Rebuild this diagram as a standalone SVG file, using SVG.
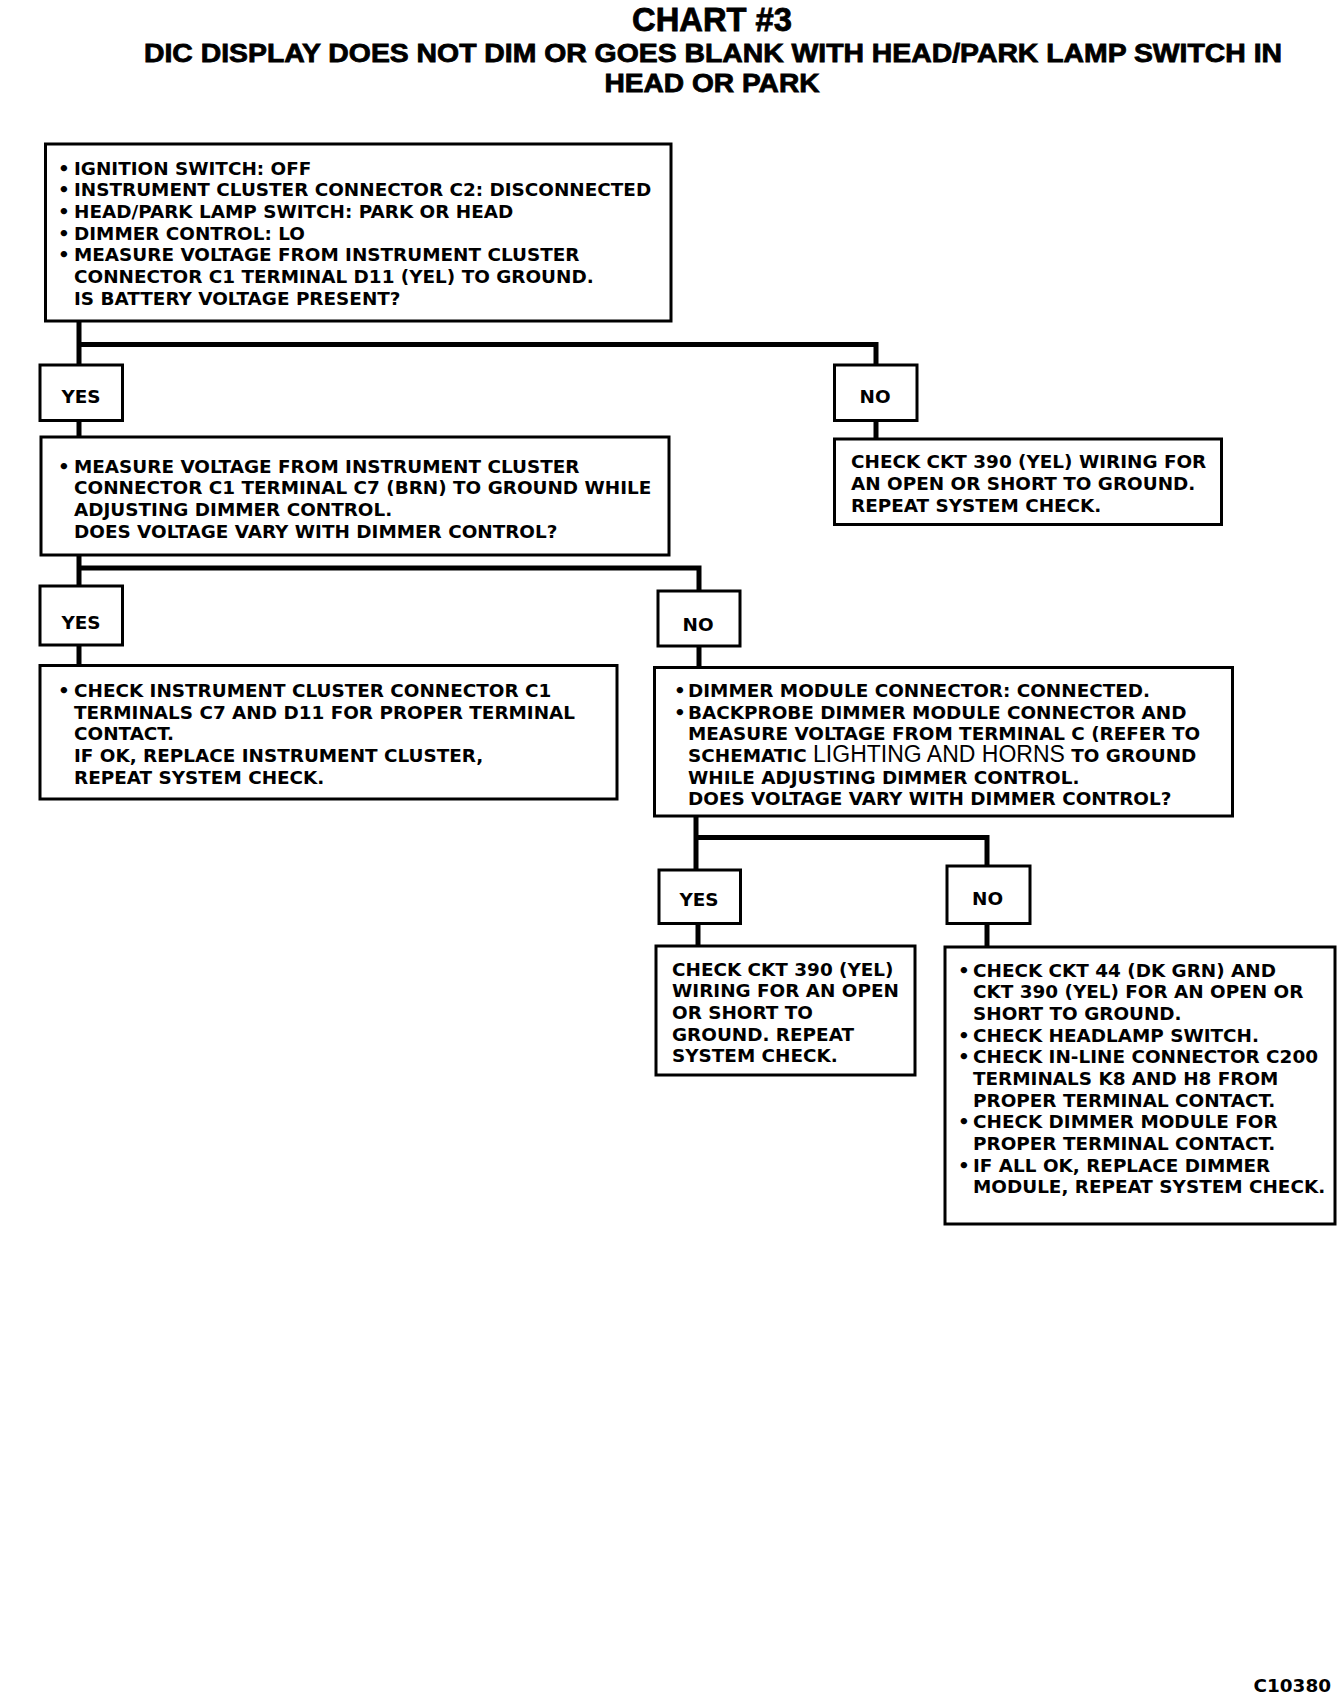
<svg xmlns="http://www.w3.org/2000/svg" width="1344" height="1700" viewBox="0 0 1344 1700">
<style>
.box{fill:#fff;stroke:#000;stroke-width:3}
.conn{fill:none;stroke:#000;stroke-width:5}
.t{font-family:"DejaVu Sans","Liberation Sans",sans-serif;font-weight:bold;font-size:18.4px;fill:#000}
.lbl{font-family:"DejaVu Sans","Liberation Sans",sans-serif;font-weight:bold;font-size:18.4px;fill:#000;text-anchor:middle}
.ttl{font-family:"Liberation Sans",Arial,sans-serif;font-weight:bold;fill:#000;stroke:#000;stroke-width:0.8;text-anchor:middle}
.reg{font-family:"Liberation Sans",Arial,sans-serif;font-weight:normal;font-size:23px}
</style>
<rect width="1344" height="1700" fill="#fff"/>
<g id="title">
<text class="ttl" x="712" y="31" font-size="33" textLength="160" lengthAdjust="spacingAndGlyphs">CHART #3</text>
<text class="ttl" x="713" y="62" font-size="26" textLength="1138" lengthAdjust="spacingAndGlyphs">DIC DISPLAY DOES NOT DIM OR GOES BLANK WITH HEAD/PARK LAMP SWITCH IN</text>
<text class="ttl" x="712" y="91.5" font-size="26" textLength="215" lengthAdjust="spacingAndGlyphs">HEAD OR PARK</text>
</g>
<g id="connectors">
<path class="conn" d="M79,321 V365 M79,344.5 H876 V365"/>
<path class="conn" d="M79,420 V437"/>
<path class="conn" d="M876,420 V439"/>
<path class="conn" d="M79,555 V586 M79,568 H699 V591"/>
<path class="conn" d="M79,645 V665"/>
<path class="conn" d="M699,646 V667"/>
<path class="conn" d="M696,816 V870 M696,837.5 H987 V866"/>
<path class="conn" d="M698,923 V946"/>
<path class="conn" d="M987,923 V947"/>
</g>
<g id="n1">
<rect class="box" x="45.5" y="144" width="625.5" height="177"/>
<text class="t" x="58" y="174.5">•</text><text class="t" x="74" y="174.5">IGNITION SWITCH: OFF</text>
<text class="t" x="58" y="196">•</text><text class="t" x="74" y="196">INSTRUMENT CLUSTER CONNECTOR C2: DISCONNECTED</text>
<text class="t" x="58" y="218">•</text><text class="t" x="74" y="218">HEAD/PARK LAMP SWITCH: PARK OR HEAD</text>
<text class="t" x="58" y="239.5">•</text><text class="t" x="74" y="239.5">DIMMER CONTROL: LO</text>
<text class="t" x="58" y="261">•</text><text class="t" x="74" y="261">MEASURE VOLTAGE FROM INSTRUMENT CLUSTER</text>
<text class="t" x="74" y="283">CONNECTOR C1 TERMINAL D11 (YEL) TO GROUND.</text>
<text class="t" x="74" y="304.5">IS BATTERY VOLTAGE PRESENT?</text>
</g>
<g id="yes1">
<rect class="box" x="40" y="365" width="82.5" height="55.5"/>
<text class="lbl" x="81" y="403">YES</text>
</g>
<g id="no1">
<rect class="box" x="834.5" y="365" width="82.5" height="55.5"/>
<text class="lbl" x="875" y="403">NO</text>
</g>
<g id="n_no1">
<rect class="box" x="834.5" y="439" width="387" height="85.5"/>
<text class="t" x="851" y="468">CHECK CKT 390 (YEL) WIRING FOR</text>
<text class="t" x="851" y="490">AN OPEN OR SHORT TO GROUND.</text>
<text class="t" x="851" y="511.5">REPEAT SYSTEM CHECK.</text>
</g>
<g id="n2">
<rect class="box" x="41" y="437" width="628" height="118"/>
<text class="t" x="58" y="472.5">•</text><text class="t" x="74" y="472.5">MEASURE VOLTAGE FROM INSTRUMENT CLUSTER</text>
<text class="t" x="74" y="494">CONNECTOR C1 TERMINAL C7 (BRN) TO GROUND WHILE</text>
<text class="t" x="74" y="516">ADJUSTING DIMMER CONTROL.</text>
<text class="t" x="74" y="537.5">DOES VOLTAGE VARY WITH DIMMER CONTROL?</text>
</g>
<g id="yes2">
<rect class="box" x="40" y="586" width="82.5" height="59"/>
<text class="lbl" x="81" y="628.5">YES</text>
</g>
<g id="no2">
<rect class="box" x="658" y="591" width="82" height="55"/>
<text class="lbl" x="698" y="631">NO</text>
</g>
<g id="n3">
<rect class="box" x="40" y="665.5" width="577" height="133.5"/>
<text class="t" x="58" y="697">•</text><text class="t" x="74" y="697">CHECK INSTRUMENT CLUSTER CONNECTOR C1</text>
<text class="t" x="74" y="718.5">TERMINALS C7 AND D11 FOR PROPER TERMINAL</text>
<text class="t" x="74" y="740">CONTACT.</text>
<text class="t" x="74" y="762">IF OK, REPLACE INSTRUMENT CLUSTER,</text>
<text class="t" x="74" y="783.5">REPEAT SYSTEM CHECK.</text>
</g>
<g id="n4">
<rect class="box" x="654.5" y="667.5" width="578" height="148.5"/>
<text class="t" x="674" y="697">•</text><text class="t" x="688" y="697">DIMMER MODULE CONNECTOR: CONNECTED.</text>
<text class="t" x="674" y="718.5">•</text><text class="t" x="688" y="718.5">BACKPROBE DIMMER MODULE CONNECTOR AND</text>
<text class="t" x="688" y="740">MEASURE VOLTAGE FROM TERMINAL C (REFER TO</text>
<text class="t" x="688" y="762">SCHEMATIC<tspan class="reg"> LIGHTING AND HORNS</tspan> TO GROUND</text>
<text class="t" x="688" y="783.5">WHILE  ADJUSTING DIMMER CONTROL.</text>
<text class="t" x="688" y="805">DOES VOLTAGE VARY WITH DIMMER CONTROL?</text>
</g>
<g id="yes3">
<rect class="box" x="659" y="870" width="81.5" height="53.5"/>
<text class="lbl" x="699" y="906">YES</text>
</g>
<g id="no3">
<rect class="box" x="947" y="866" width="83" height="57.5"/>
<text class="lbl" x="987.5" y="905">NO</text>
</g>
<g id="n5">
<rect class="box" x="656" y="946" width="259" height="129"/>
<text class="t" x="672" y="975.5">CHECK CKT 390 (YEL)</text>
<text class="t" x="672" y="997">WIRING FOR AN OPEN</text>
<text class="t" x="672" y="1019">OR SHORT TO</text>
<text class="t" x="672" y="1040.5">GROUND. REPEAT</text>
<text class="t" x="672" y="1062">SYSTEM CHECK.</text>
</g>
<g id="n6">
<rect class="box" x="945" y="947" width="390" height="277"/>
<text class="t" x="958" y="976.5">•</text><text class="t" x="973" y="976.5">CHECK CKT 44 (DK GRN) AND</text>
<text class="t" x="973" y="998">CKT 390 (YEL) FOR AN OPEN OR</text>
<text class="t" x="973" y="1020">SHORT TO GROUND.</text>
<text class="t" x="958" y="1041.5">•</text><text class="t" x="973" y="1041.5">CHECK HEADLAMP SWITCH.</text>
<text class="t" x="958" y="1063">•</text><text class="t" x="973" y="1063">CHECK IN-LINE CONNECTOR C200</text>
<text class="t" x="973" y="1085">TERMINALS K8 AND H8 FROM</text>
<text class="t" x="973" y="1106.5">PROPER TERMINAL CONTACT.</text>
<text class="t" x="958" y="1128">•</text><text class="t" x="973" y="1128">CHECK DIMMER MODULE FOR</text>
<text class="t" x="973" y="1150">PROPER TERMINAL CONTACT.</text>
<text class="t" x="958" y="1171.5">•</text><text class="t" x="973" y="1171.5">IF ALL OK, REPLACE DIMMER</text>
<text class="t" x="973" y="1193">MODULE, REPEAT SYSTEM CHECK.</text>
</g>
<g id="footer">
<text class="t" x="1331" y="1692" font-size="14.5" text-anchor="end">C10380</text>
</g>
</svg>
